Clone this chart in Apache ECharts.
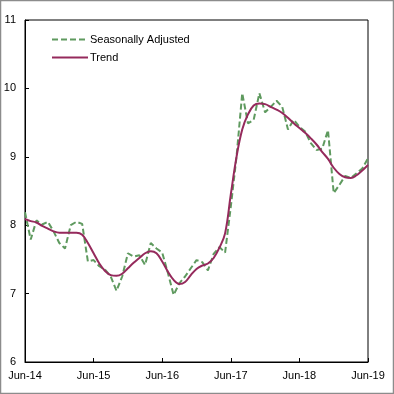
<!DOCTYPE html>
<html><head><meta charset="utf-8">
<script src="https://cdn.jsdelivr.net/npm/echarts@6/dist/echarts.min.js"></script>
<style>html,body{margin:0;padding:0;background:#fff}#c{width:394px;height:394px}</style>
</head><body><div id="c"></div>
<script>
var monthNames = ['Jan','Feb','Mar','Apr','May','Jun','Jul','Aug','Sep','Oct','Nov','Dec'];
var categories = [];
for (var i = 0; i <= 60; i++) {
  var m = (5 + i) % 12, y = 14 + Math.floor((5 + i) / 12);
  categories.push(monthNames[m] + '-' + y);
}
var seasonallyAdjusted = [
  8.19, 7.79, 8.07, 8.01, 8.05, 7.91, 7.74, 7.66, 8.00, 8.05, 8.02, 7.47,
  7.49, 7.40, 7.35, 7.25, 7.04, 7.25, 7.59, 7.54, 7.56, 7.42, 7.74, 7.66,
  7.60, 7.30, 6.98, 7.15, 7.25, 7.37, 7.49, 7.46, 7.34, 7.58, 7.68, 7.60,
  8.27, 9.00, 9.93, 9.49, 9.54, 9.93, 9.65, 9.73, 9.82, 9.73, 9.40, 9.54,
  9.44, 9.37, 9.20, 9.10, 9.12, 9.39, 8.47, 8.59, 8.72, 8.69, 8.76, 8.83,
  8.98
];
var trend = [
  8.09, 8.06, 8.04, 7.99, 7.95, 7.91, 7.89, 7.89, 7.89, 7.89, 7.86, 7.74,
  7.59, 7.44, 7.33, 7.27, 7.26, 7.29, 7.37, 7.45, 7.52, 7.59, 7.62, 7.59,
  7.47, 7.32, 7.20, 7.14, 7.17, 7.27, 7.36, 7.41, 7.44, 7.52, 7.67, 7.88,
  8.45, 9.00, 9.40, 9.62, 9.75, 9.78, 9.77, 9.73, 9.69, 9.64, 9.57, 9.49,
  9.42, 9.35, 9.27, 9.18, 9.07, 8.97, 8.84, 8.75, 8.70, 8.69, 8.73, 8.80,
  8.88
];
var yTicks = [6, 7, 8, 9, 10, 11];

var chart = echarts.init(document.getElementById('c'));
chart.setOption({
  animation: false,
  textStyle: {fontFamily: 'Liberation Sans, Arial, sans-serif'},
  graphic: [{type: 'rect', shape: {x: 0.5, y: 0.5, width: 393, height: 393},
    style: {fill: 'none', stroke: '#8c8c8c', lineWidth: 1.5}, silent: true}],
  grid: {left: 25, right: 26, top: 20, bottom: 32, show: true, borderColor: '#000', borderWidth: 1},
  legend: {
    orient: 'vertical', left: 46, top: 29, itemWidth: 36, itemHeight: 12, itemGap: 7,
    itemStyle: {opacity: 0},
    textStyle: {fontSize: 11, color: '#000', fontFamily: 'Liberation Sans, Arial, sans-serif', padding: [0, 0, 0, -3]},
    data: ['Seasonally Adjusted', 'Trend']
  },
  xAxis: {
    type: 'category', data: categories, boundaryGap: false,
    axisLine: {lineStyle: {color: '#000', width: 1}},
    axisTick: {inside: true, length: 4, interval: 11, lineStyle: {color: '#000'}},
    axisLabel: {interval: 11, color: '#000', fontSize: 11, margin: 8},
    splitLine: {show: false}
  },
  yAxis: {
    type: 'value', min: yTicks[0], max: yTicks[yTicks.length - 1], interval: 1,
    axisLine: {show: true, lineStyle: {color: '#000', width: 1}},
    axisTick: {show: true, inside: true, length: 4, lineStyle: {color: '#000'}},
    axisLabel: {color: '#000', fontSize: 11, margin: 9},
    splitLine: {show: false}
  },
  series: [
    {name: 'Seasonally Adjusted', type: 'line', data: seasonallyAdjusted, symbol: 'none',
     lineStyle: {color: '#5f9a5f', width: 2, type: [6, 3]}, itemStyle: {color: '#5f9a5f'}, z: 2},
    {name: 'Trend', type: 'line', data: trend, symbol: 'none', smooth: 0.4,
     lineStyle: {color: '#952a5c', width: 2}, itemStyle: {color: '#952a5c'}, z: 3}
  ]
});
</script></body></html>
